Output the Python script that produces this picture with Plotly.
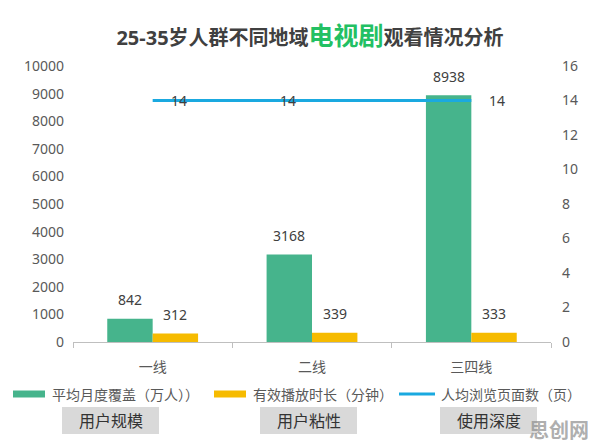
import plotly.graph_objects as go

# ---- data ----
categories = ["一线", "二线", "三四线"]
coverage = [842, 3168, 8938]          # 平均月度覆盖（万人）
duration = [312, 339, 333]            # 有效播放时长（分钟）
pages = [14, 14, 14]                  # 人均浏览页面数（页）
series_names = ["平均月度覆盖（万人））", "有效播放时长（分钟）", "人均浏览页面数（页）"]
group_labels = ["用户规模", "用户粘性", "使用深度"]
title_parts = ["25-35岁人群不同地域", "电视剧", "观看情况分析"]
watermark = "思创网"

# ---- style ----
W, H = 596, 448
L, R, T, B = 73, 45, 66, 106
PW, PH = W - L - R, H - T - B
GREEN, YELLOW, BLUE = "#46b48c", "#f6bb00", "#1aa9e0"
TXT, AX = "#404040", "#595959"
FONT = "Noto Sans, Noto Sans CJK SC, sans-serif"
BARGAP = 0.43

def px_x(px):
    return (px - L) / PW

def px_y(py):
    return (H - B - py) / PH

fig = go.Figure()
fig.add_bar(x=categories, y=coverage, name=series_names[0], marker_color=GREEN,
            marker_line_width=0, showlegend=False)
fig.add_bar(x=categories, y=duration, name=series_names[1], marker_color=YELLOW,
            marker_line_width=0, showlegend=False)
fig.add_scatter(x=categories, y=pages, name=series_names[2], mode="lines",
                line=dict(color=BLUE, width=3), yaxis="y2", showlegend=False)

# bar value labels
cat_px = PW / len(categories)
bar_w = cat_px * (1 - BARGAP) / 2
for vals, sh in ((coverage, -bar_w / 2), (duration, bar_w / 2)):
    for c, v in zip(categories, vals):
        fig.add_annotation(x=c, y=v, text=str(v), showarrow=False, xshift=sh,
                           yshift=19, yanchor="middle",
                           font=dict(size=14, color=TXT, family=FONT))

# line value labels
line_label_shift = [26, -24, 26]
for c, v, sh in zip(categories, pages, line_label_shift):
    fig.add_annotation(x=c, y=v, yref="y2", text=str(v), showarrow=False,
                       xshift=sh, yanchor="middle",
                       font=dict(size=14, color=TXT, family=FONT))

# custom legend
leg_swatch_x = [13, 214, 399]
leg_y = 394
for name, col, sx, kind in zip(series_names, [GREEN, YELLOW, BLUE], leg_swatch_x,
                               ["bar", "bar", "line"]):
    if kind == "bar":
        fig.add_shape(type="rect", xref="paper", yref="paper",
                      x0=px_x(sx), x1=px_x(sx + 32), y0=px_y(leg_y + 3.5), y1=px_y(leg_y - 3.5),
                      fillcolor=col, line_width=0)
    else:
        fig.add_shape(type="line", xref="paper", yref="paper",
                      x0=px_x(sx), x1=px_x(sx + 36), y0=px_y(leg_y), y1=px_y(leg_y),
                      line=dict(color=col, width=3))
    fig.add_annotation(xref="paper", yref="paper", x=px_x(sx + (37 if kind == "bar" else 40)),
                       y=px_y(leg_y), text=name, showarrow=False, xanchor="left",
                       yanchor="middle", font=dict(size=14, color=AX, family=FONT))

# gray group boxes
box_x = [(62, 159), (260, 357), (440, 537)]
for lab, (x0, x1) in zip(group_labels, box_x):
    fig.add_shape(type="rect", xref="paper", yref="paper",
                  x0=px_x(x0), x1=px_x(x1), y0=px_y(434), y1=px_y(407),
                  fillcolor="#d9d9d9", line_width=0, layer="below")
    fig.add_annotation(xref="paper", yref="paper", x=px_x((x0 + x1) / 2), y=px_y(420.5),
                       text=lab, showarrow=False, xanchor="center", yanchor="middle",
                       font=dict(size=16, color="#333333", family=FONT))

# watermark
fig.add_annotation(xref="paper", yref="paper", x=px_x(559), y=px_y(431), text="<b>%s</b>" % watermark,
                   showarrow=False, xanchor="center", yanchor="middle",
                   font=dict(size=20, color="rgba(140,140,140,0.7)", family=FONT))

title_html = ("<b>%s<span style='color:#22c063;font-size:25px'>%s</span>%s</b>"
              % tuple(title_parts))

fig.update_layout(
    width=W, height=H, autosize=False,
    margin=dict(l=L, r=R, t=T, b=B, pad=0),
    paper_bgcolor="white", plot_bgcolor="white",
    barmode="group", bargap=BARGAP, bargroupgap=0,
    font=dict(family=FONT, color=AX, size=14),
    hovermode=False,
    title=dict(text=title_html, x=310 / W, xref="container", xanchor="center",
               y=1 - 38 / H, yref="container", yanchor="middle",
               font=dict(size=20, color=TXT, family=FONT)),
    xaxis=dict(type="category", tickson="boundaries", ticks="outside", ticklen=5,
               tickcolor="#bfbfbf", showline=True, linecolor="#bfbfbf", linewidth=1,
               showgrid=False, tickfont=dict(size=14, color=AX), ticklabelstandoff=12),
    yaxis=dict(range=[0, 10000], dtick=1000, tickformat="d", showgrid=False, zeroline=False,
               showline=False, tickfont=dict(size=14, color=AX), ticklabelstandoff=8),
    yaxis2=dict(range=[0, 16], dtick=2, tickformat="d", overlaying="y", side="right",
                showgrid=False, zeroline=False, showline=False,
                tickfont=dict(size=14, color=AX), ticklabelstandoff=10),
)

fig.write_html("out.html", config={"displayModeBar": False},
               post_script="document.body.style.margin='0';")
